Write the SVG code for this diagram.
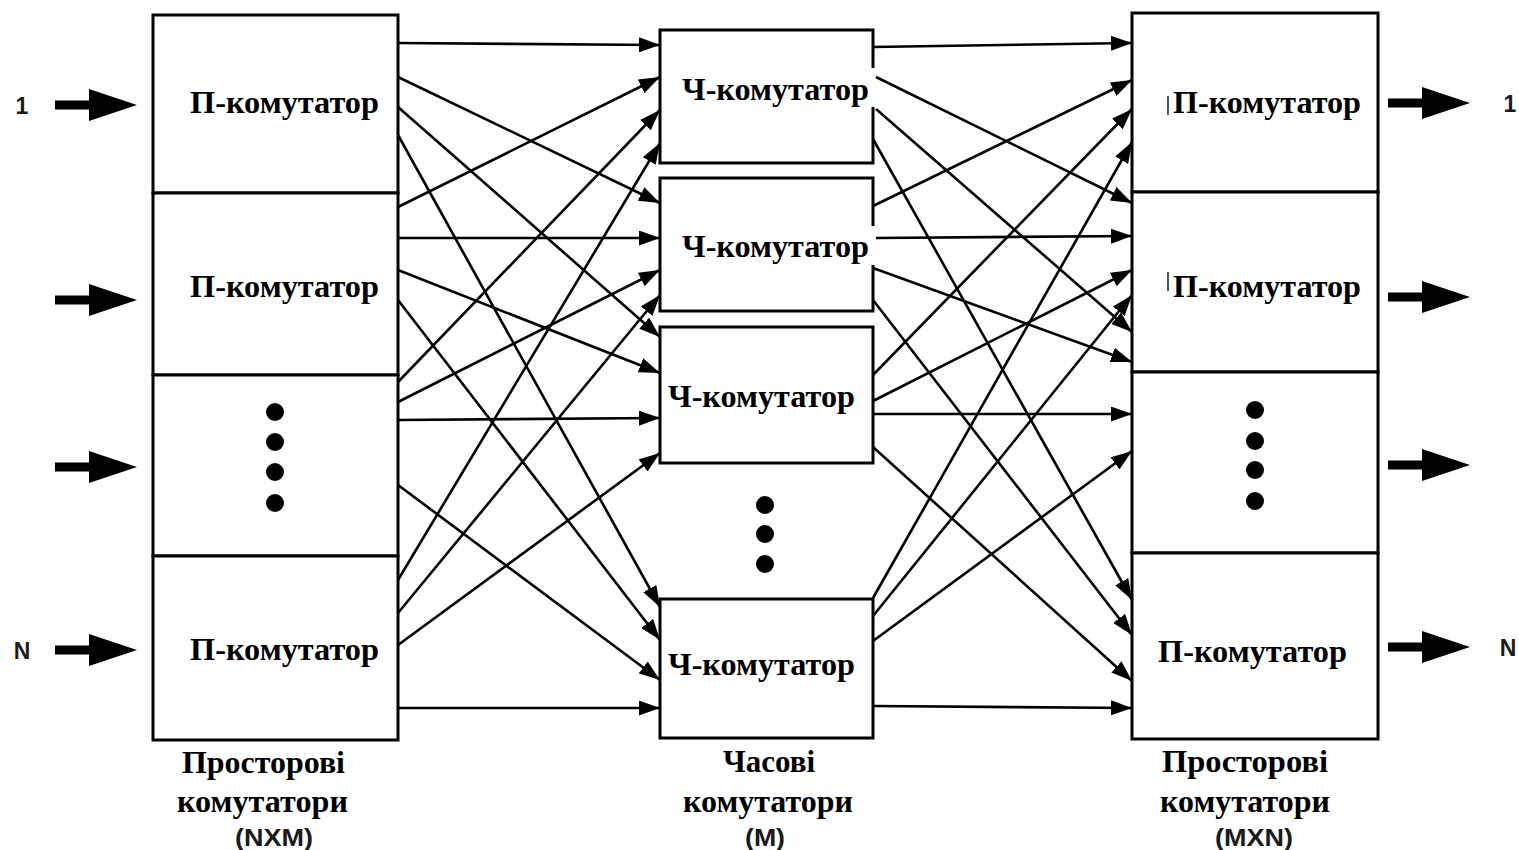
<svg xmlns="http://www.w3.org/2000/svg" width="1519" height="850" viewBox="0 0 1519 850">
  <style>
    .box { fill: #fff; stroke: #000; stroke-width: 3; }
    .t { font-family: "Liberation Serif", "Times New Roman", serif; font-weight: bold; font-size: 31px; fill: #000; }
    .s { font-family: "Liberation Sans", Arial, sans-serif; font-weight: bold; font-size: 23px; fill: #1a1a1a; }
    .c { fill: none; stroke: #000; stroke-width: 2.6; marker-end: url(#ah); }
    .dot { fill: #000; }
    .big { fill: #000; }
    .patch { fill: #fff; }
  </style>
  <defs>
    <marker id="ah" markerUnits="userSpaceOnUse" markerWidth="21" markerHeight="15" refX="21" refY="7.5" orient="auto">
      <path d="M0,0 L21,7.5 L0,15 Z" fill="#000"/>
    </marker>
    <path id="bigArrow" d="M0,-4.5 H34 V-16 L82,0 L34,16 V4.5 H0 Z"/>
  </defs>
  <rect width="1519" height="850" fill="#fff"/>

  <!-- Left space switches -->
  <g id="L1"><rect class="box" x="153" y="15" width="245" height="178"/><text class="t" x="190" y="113" textLength="189" lengthAdjust="spacingAndGlyphs">П-комутатор</text></g>
  <g id="L2"><rect class="box" x="153" y="193" width="245" height="182"/><text class="t" x="190" y="297" textLength="189" lengthAdjust="spacingAndGlyphs">П-комутатор</text></g>
  <g id="L3"><rect class="box" x="153" y="375" width="245" height="181"/>
    <circle class="dot" cx="275" cy="412" r="9"/><circle class="dot" cx="275" cy="442" r="9"/><circle class="dot" cx="275" cy="472" r="9"/><circle class="dot" cx="275" cy="503" r="9"/></g>
  <g id="L4"><rect class="box" x="153" y="556" width="245" height="184"/><text class="t" x="190" y="660" textLength="189" lengthAdjust="spacingAndGlyphs">П-комутатор</text></g>

  <!-- Middle time switches -->
  <g id="M1"><rect class="box" x="660" y="30" width="213" height="133"/><rect class="patch" x="680" y="68" width="196" height="39"/><text class="t" x="682" y="100" textLength="187" lengthAdjust="spacingAndGlyphs">Ч-комутатор</text></g>
  <g id="M2"><rect class="box" x="660" y="178" width="213" height="133"/><rect class="patch" x="680" y="226" width="196" height="39"/><text class="t" x="682" y="257" textLength="187" lengthAdjust="spacingAndGlyphs">Ч-комутатор</text></g>
  <g id="M3"><rect class="box" x="660" y="327" width="213" height="136"/><text class="t" x="668" y="407" textLength="187" lengthAdjust="spacingAndGlyphs">Ч-комутатор</text></g>
  <g id="Mdots"><circle class="dot" cx="765" cy="505" r="9"/><circle class="dot" cx="765" cy="534" r="9"/><circle class="dot" cx="765" cy="564" r="9"/></g>
  <g id="M4"><rect class="box" x="660" y="599" width="213" height="139"/><text class="t" x="668" y="675" textLength="187" lengthAdjust="spacingAndGlyphs">Ч-комутатор</text></g>

  <!-- Right space switches -->
  <g id="R1"><rect class="box" x="1132" y="13" width="246" height="179"/><rect x="1167" y="96" width="2" height="19" fill="#555"/><text class="t" x="1173" y="113" textLength="188" lengthAdjust="spacingAndGlyphs">П-комутатор</text></g>
  <g id="R2"><rect class="box" x="1132" y="192" width="246" height="180"/><rect x="1167" y="272" width="2" height="19" fill="#555"/><text class="t" x="1173" y="297" textLength="188" lengthAdjust="spacingAndGlyphs">П-комутатор</text></g>
  <g id="R3"><rect class="box" x="1132" y="372" width="246" height="181"/>
    <circle class="dot" cx="1255" cy="410" r="9"/><circle class="dot" cx="1255" cy="441" r="9"/><circle class="dot" cx="1255" cy="470" r="9"/><circle class="dot" cx="1255" cy="501" r="9"/></g>
  <g id="R4"><rect class="box" x="1132" y="553" width="246" height="186"/><text class="t" x="1158" y="662" textLength="189" lengthAdjust="spacingAndGlyphs">П-комутатор</text></g>

  <!-- Connectors -->
  <g id="connectors">
    <!-- left to middle -->
    <line class="c" x1="398" y1="43" x2="660" y2="45"/>
    <line class="c" x1="398" y1="77" x2="660" y2="203"/>
    <line class="c" x1="398" y1="107" x2="660" y2="337"/>
    <line class="c" x1="398" y1="135" x2="660" y2="607"/>
    <line class="c" x1="398" y1="207" x2="660" y2="77"/>
    <line class="c" x1="398" y1="238" x2="660" y2="238"/>
    <line class="c" x1="398" y1="270" x2="660" y2="373"/>
    <line class="c" x1="398" y1="300" x2="660" y2="640"/>
    <line class="c" x1="398" y1="382" x2="660" y2="110"/>
    <line class="c" x1="398" y1="402" x2="660" y2="270"/>
    <line class="c" x1="398" y1="420" x2="660" y2="418"/>
    <line class="c" x1="398" y1="485" x2="660" y2="680"/>
    <line class="c" x1="398" y1="580" x2="660" y2="143"/>
    <line class="c" x1="398" y1="613" x2="660" y2="295"/>
    <line class="c" x1="398" y1="645" x2="660" y2="453"/>
    <line class="c" x1="398" y1="708" x2="660" y2="708"/>
    <!-- middle to right -->
    <line class="c" x1="873" y1="47" x2="1132" y2="43"/>
    <line class="c" x1="876" y1="77" x2="1132" y2="203"/>
    <line class="c" x1="876" y1="109" x2="1132" y2="332"/>
    <line class="c" x1="873" y1="139" x2="1132" y2="600"/>
    <line class="c" x1="873" y1="206" x2="1132" y2="80"/>
    <line class="c" x1="876" y1="238" x2="1132" y2="236"/>
    <line class="c" x1="873" y1="268" x2="1132" y2="362"/>
    <line class="c" x1="873" y1="300" x2="1132" y2="635"/>
    <line class="c" x1="873" y1="375" x2="1132" y2="109"/>
    <line class="c" x1="873" y1="401" x2="1132" y2="270"/>
    <line class="c" x1="873" y1="414" x2="1132" y2="414"/>
    <line class="c" x1="873" y1="447" x2="1132" y2="681"/>
    <line class="c" x1="873" y1="598" x2="1132" y2="142"/>
    <line class="c" x1="873" y1="616" x2="1132" y2="295"/>
    <line class="c" x1="873" y1="641" x2="1132" y2="451"/>
    <line class="c" x1="873" y1="706" x2="1132" y2="708"/>
    <!-- inputs -->
    <use href="#bigArrow" class="big" transform="translate(55,105)"/>
    <use href="#bigArrow" class="big" transform="translate(55,300)"/>
    <use href="#bigArrow" class="big" transform="translate(55,467)"/>
    <use href="#bigArrow" class="big" transform="translate(55,650)"/>
    <!-- outputs -->
    <use href="#bigArrow" class="big" transform="translate(1388,103)"/>
    <use href="#bigArrow" class="big" transform="translate(1388,297)"/>
    <use href="#bigArrow" class="big" transform="translate(1388,465)"/>
    <use href="#bigArrow" class="big" transform="translate(1388,647)"/>
  </g>

  <!-- Port labels -->
  <g id="ports">
    <text class="s" x="22" y="114" text-anchor="middle">1</text>
    <text class="s" x="22" y="659" text-anchor="middle">N</text>
    <text class="s" x="1510" y="112" text-anchor="middle">1</text>
    <text class="s" x="1508" y="656" text-anchor="middle">N</text>
  </g>

  <!-- Stage captions -->
  <g id="caption-left">
    <text class="t" x="182" y="773" textLength="163" lengthAdjust="spacingAndGlyphs">Просторові</text>
    <text class="t" x="177" y="812" textLength="171" lengthAdjust="spacingAndGlyphs">комутатори</text>
    <text class="s" x="235" y="846" textLength="78" lengthAdjust="spacingAndGlyphs">(NXM)</text>
  </g>
  <g id="caption-mid">
    <text class="t" x="723" y="772" textLength="92" lengthAdjust="spacingAndGlyphs">Часові</text>
    <text class="t" x="683" y="812" textLength="170" lengthAdjust="spacingAndGlyphs">комутатори</text>
    <text class="s" x="745" y="846" textLength="40" lengthAdjust="spacingAndGlyphs">(M)</text>
  </g>
  <g id="caption-right">
    <text class="t" x="1162" y="772" textLength="166" lengthAdjust="spacingAndGlyphs">Просторові</text>
    <text class="t" x="1160" y="812" textLength="170" lengthAdjust="spacingAndGlyphs">комутатори</text>
    <text class="s" x="1215" y="846" textLength="78" lengthAdjust="spacingAndGlyphs">(MXN)</text>
  </g>
</svg>
